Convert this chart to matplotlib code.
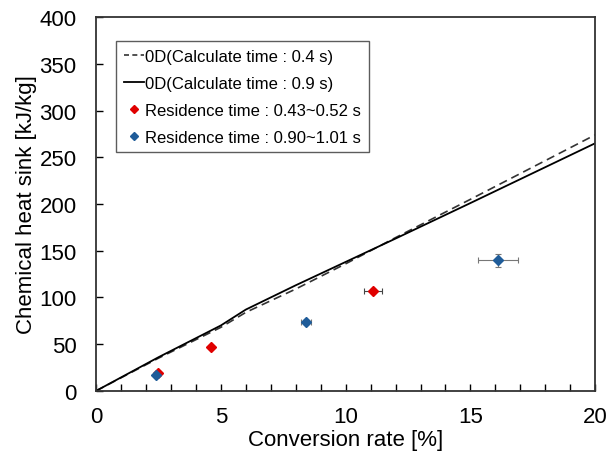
import matplotlib
matplotlib.use("Agg")
import matplotlib.pyplot as plt
from matplotlib.ticker import MultipleLocator
from matplotlib.lines import Line2D

plt.rcParams['font.family'] = ['Liberation Sans', 'DejaVu Sans']

# 0D calculation lines
x_04 = [0, 2.5, 5, 6, 8, 10, 12, 15, 20]
y_04 = [0, 35, 68, 84, 109, 136, 164, 205, 274]
x_09 = [0, 2.5, 5, 6, 8, 10, 12, 15, 20]
y_09 = [0, 36, 70, 87, 113, 138, 163, 201, 265]

# Experimental points
red_x = [2.5, 4.6, 11.1]
red_y = [19, 47, 107]
red_xerr = [0.05, 0.05, 0.35]
red_yerr = [1, 1.5, 2]

blue_x = [2.4, 8.4, 16.1]
blue_y = [17, 74, 140]
blue_xerr = [0.05, 0.2, 0.8]
blue_yerr = [1, 2, 7]

RED = '#E00000'
BLUE = '#1F5C99'

fig = plt.figure(figsize=(6.08, 4.52), dpi=100)
ax = fig.add_axes([0.158, 0.133, 0.821, 0.827])

ax.plot(x_04, y_04, color='#333333', lw=1.2, ls=(0, (5, 3)), label='0D(Calculate time : 0.4 s)')
ax.plot(x_09, y_09, color='black', lw=1.3, label='0D(Calculate time : 0.9 s)')

ax.errorbar(red_x, red_y, xerr=red_xerr, yerr=red_yerr, fmt='D', color=RED,
            ms=5.5, ecolor='#444444', elinewidth=0.8, capsize=2, capthick=0.8,
            label='Residence time : 0.43~0.52 s', zorder=3)
ax.errorbar(blue_x, blue_y, xerr=blue_xerr, yerr=blue_yerr, fmt='D', color=BLUE,
            ms=5.5, ecolor='#777777', elinewidth=0.8, capsize=2, capthick=0.8,
            label='Residence time : 0.90~1.01 s', zorder=3)

ax.set_xlim(0, 20)
ax.set_ylim(0, 400)
ax.xaxis.set_major_locator(MultipleLocator(5))
ax.xaxis.set_minor_locator(MultipleLocator(1))
ax.yaxis.set_major_locator(MultipleLocator(50))
ax.tick_params(which='both', direction='in', labelsize=16, top=False, right=False)
ax.tick_params(which='major', length=5, width=1)
ax.tick_params(which='minor', length=5, width=1)
ax.tick_params(axis='x', pad=11)
ax.tick_params(axis='y', pad=14)
for s in ax.spines.values():
    s.set_linewidth(1.3)
    s.set_color('#333333')

ax.set_xlabel('Conversion rate [%]', fontsize=16, labelpad=1)
ax.set_ylabel('Chemical heat sink [kJ/kg]', fontsize=16, labelpad=2)

labels = ['0D(Calculate time : 0.4 s)', '0D(Calculate time : 0.9 s)',
          'Residence time : 0.43~0.52 s', 'Residence time : 0.90~1.01 s']
h = [Line2D([], [], color='#333333', lw=1.2, ls=(0, (3, 2))),
     Line2D([], [], color='black', lw=1.3),
     Line2D([], [], marker='D', color=RED, ls='none', ms=4),
     Line2D([], [], marker='D', color=BLUE, ls='none', ms=4)]
leg = ax.legend(h, labels, loc='upper left', bbox_to_anchor=(0.04, 0.936), fontsize=12,
                frameon=True, fancybox=False, handlelength=1.2, handletextpad=0.1,
                borderpad=0.45, labelspacing=0.72, borderaxespad=0)
leg.get_frame().set_edgecolor('#333333')
leg.get_frame().set_linewidth(1.0)

fig.savefig('out.png', dpi=100)
